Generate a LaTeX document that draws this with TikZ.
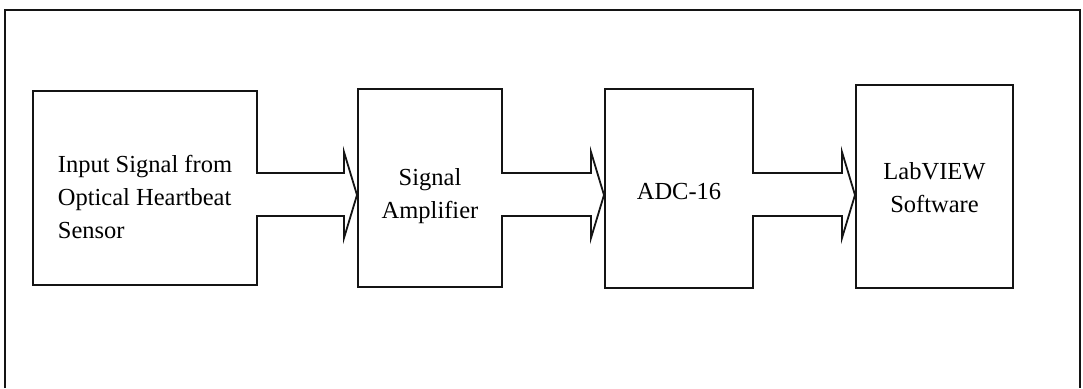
\documentclass[tikz,border=0pt]{standalone}
\usepackage{fontspec}
\setmainfont{Liberation Serif}
\usepackage{xcolor}
\usepackage{tikz}
\usetikzlibrary{calc}
\definecolor{ink}{HTML}{141414}
\newcommand{\droptext}[2]{\raisebox{-#1}[\height][\depth]{\begin{tabular}{@{}c@{}}#2\end{tabular}}}
\tikzset{
  block/.style={draw=ink, line width=2pt, fill=white, align=center, inner sep=0pt, font=\fontsize{24.5}{33}\selectfont},
  flow/.style={draw=ink, line width=1.8pt, line join=miter},
  frameline/.style={draw=ink, line width=1.4pt}
}

\begin{document}
\begin{tikzpicture}[x=1pt, y=-1pt]
  \useasboundingbox (0,0) rectangle (1083,388);
  \draw[frameline] (5,388) -- (5,10) -- (1080,10) -- (1080,388);

  \node[block, minimum width=224pt, minimum height=194pt] (sensor) at (145,188) {\raisebox{-11pt}[\height][\depth]{\begin{tabular}{@{}l@{}}Input Signal from\\Optical Heartbeat\\Sensor\end{tabular}}};
  \node[block, minimum width=144pt, minimum height=198pt] (amp) at (430,188) {\droptext{7pt}{Signal\\Amplifier}};
  \node[block, minimum width=148pt, minimum height=199pt] (adc) at (679,188.5) {\droptext{4pt}{ADC-16}};
  \node[block, minimum width=157pt, minimum height=203pt] (lab) at (934.5,186.5) {\droptext{3pt}{LabVIEW\\Software}};

  \foreach \a/\b in {sensor/amp, amp/adc, adc/lab} {
    \fill[white] ($(\a.east |- 0,174)+(-2,0)$) rectangle ($(\a.east |- 0,215)+(2,0)$);
    \draw[flow] ($(\a.east |- 0,173)+(-1,0)$) -- ($(\b.west |- 0,173)+(-13,0)$)
      -- ($(\b.west |- 0,152)+(-13,0)$) -- (\b.west |- 0,195)
      -- ($(\b.west |- 0,238)+(-13,0)$) -- ($(\b.west |- 0,216)+(-13,0)$)
      -- ($(\a.east |- 0,216)+(-1,0)$);
  }
\end{tikzpicture}
\end{document}
